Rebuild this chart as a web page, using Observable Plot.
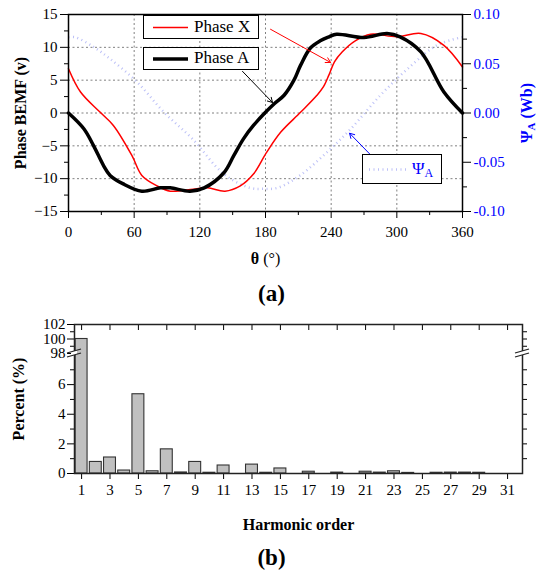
<!DOCTYPE html>
<html><head><meta charset="utf-8">
<script src="https://cdn.jsdelivr.net/npm/d3@7"></script>
<script src="https://cdn.jsdelivr.net/npm/@observablehq/plot@0.6"></script>
<style>
body{margin:0;background:#fff;}
#wrap{position:relative;width:543px;height:573px;overflow:hidden;background:#fff;font-family:"Liberation Serif",serif;}
#wrap svg{position:absolute;left:0;}
#wrap svg text{font-family:"Liberation Serif",serif;}
.cap{position:absolute;left:0;width:543px;text-align:center;font:bold 23px "Liberation Serif",serif;line-height:24px;height:24px;}
.leg{position:absolute;border:1.4px solid #000;background:#fff;box-sizing:border-box;font:17px "Liberation Serif",serif;}
.leg svg{position:absolute;top:0;left:0;}
.leg span{position:absolute;white-space:nowrap;}
</style></head><body><div id="wrap"></div>
<script>
// ---------- (a) data ----------
const thetaA = [0,14,23,32,38,50,67,84,93,111,124,142,151,160,169,180,188,197,206,212,221,230,238,245,270,291,303,322,343,360];
const phaseA = [0,-2.4,-5.0,-8.0,-9.5,-10.8,-11.9,-11.4,-11.4,-11.9,-11.4,-9.1,-6.5,-3.9,-1.9,0.1,1.4,2.7,5.0,7.25,9.9,11.0,11.6,12.0,11.5,12.1,11.6,9.3,3.2,0];
const thetaX = [0,11,29,41,58,67,81,93,114,127,143,157,169,181,194,212,227,233,238,243,250,262,276,300,322,343,360];
const phaseX = [6.75,3.2,0.1,-1.9,-6.5,-9.5,-11.1,-11.9,-11.6,-11.4,-11.9,-11.1,-9.3,-6.0,-2.9,0.1,2.7,4.0,5.8,7.8,9.3,11.0,12.0,11.6,12.1,10.3,7.0];
const thetaPsi = [0,6,23,38,63,87,113,142,166,178,191,212,236,258,285,310,337,360];
const psiWb = [0.077,0.077,0.067,0.055,0.031,0.001,-0.026,-0.062,-0.076,-0.077,-0.076,-0.063,-0.040,-0.016,0.018,0.045,0.069,0.077];
const xTicksA = [0,60,120,180,240,300,360];
const xMinorA = [30,90,150,210,270,330];
const yTicksA = [-15,-10,-5,0,5,10,15];
const yMinorA = [-12.5,-7.5,-2.5,2.5,7.5,12.5];
const psiTicks = [-0.10,-0.05,0,0.05,0.10];
const psiMinor = [-0.075,-0.025,0.025,0.075];
const wbToV = 150; // right axis: 0.10 Wb <-> 15 V
// annotation arrows (data units: θ, V)
const arrowFrom = [[184.6,12.75],[159,6.34],[275,-6.2]];
const arrowTo   = [[239.4,7.7],[186.4,1.6],[256.8,-3.08]];
const arrowColor = ["red","black","blue"];

// ---------- (b) data ----------
const harmonics = d3.range(1,32);
const percent = [100,0.78,1.08,0.2,5.35,0.15,1.63,0.07,0.78,0.05,0.54,0,0.6,0.05,0.34,0,0.12,0,0.06,0,0.12,0.06,0.15,0.04,0,0.05,0.06,0.06,0.05,0,0];
const yTicksB = [0,2,4,6,98,100,102];
const yMinorB = [1,3,5,7,99,101];
const yRightB = [1,2,3,4,5,6,7,99,100,101];
const xTicksB = d3.range(1,32,2);

const aData = thetaA.map((t,i)=>({t, v: phaseA[i]}));
const xData = thetaX.map((t,i)=>({t, v: phaseX[i]}));
const pData = thetaPsi.map((t,i)=>({t, psi: psiWb[i]}));
const arrows = arrowFrom.map((f,i)=>({x1:f[0],y1:f[1],x2:arrowTo[i][0],y2:arrowTo[i][1],c:arrowColor[i]}));
const bars = harmonics.map((n,i)=>({n, v: percent[i]}));

const wrap = document.getElementById("wrap");
const font = {fontFamily:'"Liberation Serif", serif', fontSize:"15px", background:"white", color:"black", overflow:"visible"};
const grid = {stroke:"#808080", strokeOpacity:1, strokeWidth:1, strokeDasharray:"2,2.5"};
const noText = () => "";
const psiColor = "#bcc0f7";

// ---------- (a) ----------
const H1 = 272;
const pa = Plot.plot({
  width: 543, height: H1,
  marginLeft: 68, marginRight: 81, marginTop: 14, marginBottom: H1-211,
  style: font,
  x: {domain:[0,360]},
  y: {domain:[-15,15]},
  marks: [
    Plot.gridX([60,120,180,240,300], grid),
    Plot.gridY([-10,-5,0,5,10], grid),
    Plot.line(pData, {x:"t", y: d => d.psi*wbToV, stroke:psiColor, strokeWidth:2.5, strokeDasharray:"1,3.5", strokeLinecap:"butt", curve:"catmull-rom"}),
    Plot.line(xData, {x:"t", y:"v", stroke:"#ff0000", strokeWidth:1.5, curve:"catmull-rom"}),
    Plot.line(aData, {x:"t", y:"v", stroke:"black", strokeWidth:3.5, curve:"catmull-rom"}),
    Plot.arrow(arrows, {x1:"x1", y1:"y1", x2:"x2", y2:"y2", stroke:"c", strokeWidth:1, headLength:8}),
    Plot.axisX({ticks:xTicksA, tickSize:7, tickPadding:8, label:"θ (°)", labelAnchor:"center", labelOffset:52, labelArrow:"none"}),
    Plot.axisX({ticks:xMinorA, tickSize:4, tickFormat:noText, label:null}),
    Plot.axisY({ticks:yTicksA, tickSize:8, tickPadding:3, label:"Phase BEMF (v)", labelAnchor:"center", labelOffset:54, labelArrow:"none"}),
    Plot.axisY({ticks:yMinorA, tickSize:4, tickFormat:noText, label:null}),
    Plot.axisY({anchor:"right", ticks:psiTicks.map(d=>d*wbToV), tickSize:8, tickFormat:noText, label:null}),
    Plot.axisY({anchor:"right", ticks:psiMinor.map(d=>d*wbToV), tickSize:4, tickFormat:noText, label:null}),
    Plot.axisY({anchor:"right", ticks:psiTicks.map(d=>d*wbToV), tickSize:0, tickPadding:11, color:"blue",
      tickFormat: d => (d/wbToV).toFixed(2), label:"ΨA (Wb)", labelAnchor:"center", labelOffset:69, labelArrow:"none"}),
    Plot.frame({stroke:"black", strokeWidth:1.5})
  ]
});
pa.style.top = "0px";
wrap.appendChild(pa);

// ---------- (b) ----------
const off2 = 310, H2 = 228;
const pb = Plot.plot({
  width: 543, height: H2,
  marginLeft: 74, marginRight: 21, marginTop: 324-off2, marginBottom: H2-(473-off2),
  style: font,
  x: {domain:[0.5,32.05]},
  y: {type:"linear", domain:[0,8.1,98,102], range:[473-off2,353-off2,353-off2,324-off2]},
  marks: [
    Plot.rect(bars.filter(d=>d.v>0), {x1: d=>d.n-0.42, x2: d=>d.n+0.42, y1: () => 0, y2:"v", fill:"#c0c0c0", stroke:"#333", strokeWidth:1.1}),
    Plot.axisX({ticks:xTicksB, tickSize:6, tickPadding:5, label:"Harmonic order", labelAnchor:"center", labelOffset:56, labelArrow:"none"}),
    Plot.axisX({anchor:"top", ticks:xTicksB, tickSize:-5, tickFormat:noText, label:null}),
    Plot.axisY({ticks:yTicksB, tickSize:7, tickPadding:2, label:"Percent (%)", labelAnchor:"center", labelOffset:62, labelArrow:"none"}),
    Plot.axisY({ticks:yMinorB, tickSize:4, tickFormat:noText, label:null}),
    Plot.axisY({anchor:"right", ticks:yRightB, tickSize:4, tickFormat:noText, label:null}),
    Plot.frame({stroke:"#222", strokeWidth:1.5})
  ]
});
pb.style.top = off2 + "px";
wrap.appendChild(pb);

// ---- post-processing: fonts for labels, break marks ----
function fixLabels(svg){
  svg.querySelectorAll("text").forEach(t=>{
    const s = t.textContent;
    if (s === "θ (°)") { t.innerHTML = '<tspan font-weight="bold">θ</tspan> (°)'; t.setAttribute("font-size","16"); }
    else if (s === "ΨA (Wb)") { t.innerHTML = 'Ψ<tspan font-size="11" dy="3">A</tspan><tspan dy="-3"> (Wb)</tspan>'; t.setAttribute("font-weight","bold"); t.setAttribute("font-size","16"); t.setAttribute("fill","blue"); }
    else if (s === "Phase BEMF (v)" || s === "Percent (%)" || s === "Harmonic order") { t.setAttribute("font-weight","bold"); t.setAttribute("font-size","16"); }
  });
}
fixLabels(pa); fixLabels(pb);

const ns = "http://www.w3.org/2000/svg";
const ysB = pb.scale("y"), xsB = pb.scale("x");
const yb = ysB.apply(98);
[xsB.apply(0.5), xsB.apply(32.05)].forEach(x=>{
  const g = document.createElementNS(ns,"g");
  const r = document.createElementNS(ns,"rect");
  r.setAttribute("x", x-3); r.setAttribute("y", yb-2); r.setAttribute("width", 6); r.setAttribute("height", 4); r.setAttribute("fill","white");
  g.appendChild(r);
  [-2,2].forEach(o=>{
    const l = document.createElementNS(ns,"line");
    l.setAttribute("x1", x-7); l.setAttribute("y1", yb+o+2); l.setAttribute("x2", x+7); l.setAttribute("y2", yb+o-2);
    l.setAttribute("stroke","#222"); l.setAttribute("stroke-width","1.2");
    g.appendChild(l);
  });
  pb.appendChild(g);
});

// ---- legends (HTML overlay) ----
function legend(left, top, w, h, swatch, label, color){
  const d = document.createElement("div");
  d.className = "leg";
  d.style.cssText = `left:${left}px;top:${top}px;width:${w}px;height:${h}px;`;
  d.innerHTML = `<svg width="${w}" height="${h}">${swatch}</svg><span style="left:${label.x}px;top:0;line-height:${h-3}px;color:${color}">${label.html}</span>`;
  wrap.appendChild(d);
}
legend(143,15,116,24, `<line x1="9" x2="44" y1="11.5" y2="11.5" stroke="#ff0000" stroke-width="1.5"/>`, {x:50, html:"Phase X"}, "black");
legend(143,47,116,23, `<line x1="9" x2="44" y1="11" y2="11" stroke="black" stroke-width="3.5"/>`, {x:50, html:"Phase A"}, "black");
legend(362,154,80,30, `<line x1="6" x2="46" y1="14.5" y2="14.5" stroke="${psiColor}" stroke-width="2.5" stroke-dasharray="1,3.5"/>`, {x:49, html:'Ψ<span style="position:relative;font-size:12px;top:3px">A</span>'}, "blue");

// ---- captions ----
const ca = document.createElement("div"); ca.className="cap"; ca.style.top="282px"; ca.textContent="(a)"; wrap.appendChild(ca);
const cb = document.createElement("div"); cb.className="cap"; cb.style.top="546px"; cb.textContent="(b)"; wrap.appendChild(cb);
</script></body></html>
